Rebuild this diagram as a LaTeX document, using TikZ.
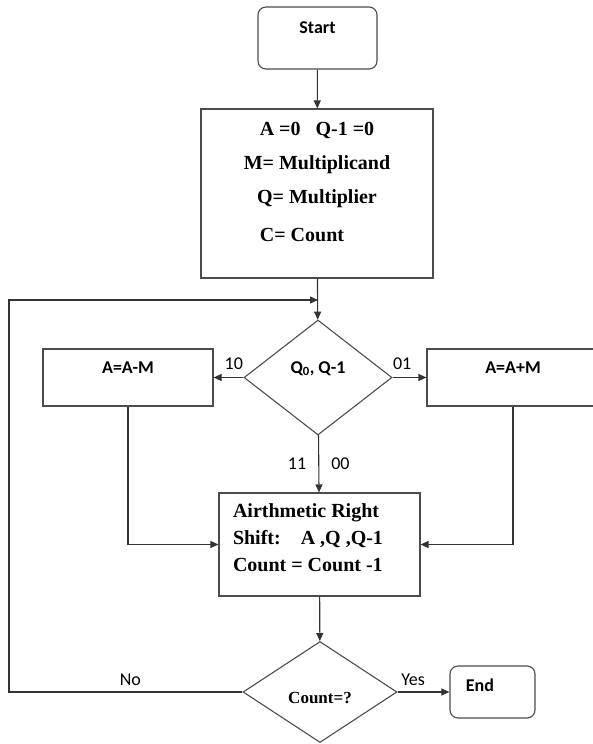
\documentclass[tikz,border=0pt]{standalone}
\usepackage{fontspec}
\setmainfont{Liberation Serif}
\newfontfamily\calibri{Carlito}
\usetikzlibrary{shapes.geometric,arrows.meta}
\colorlet{linegray}{black!70}
\tikzset{
terminal/.style={draw=linegray,rounded corners=8pt,inner ysep=0pt,font=\calibri\bfseries\fontsize{18}{22}\selectfont},
process/.style={draw=linegray,rectangle,inner sep=0pt,font=\bfseries\fontsize{20}{34}\selectfont},
opbox/.style={draw=linegray,rectangle,inner ysep=0pt,text height=24.8pt,text depth=32.2pt,font=\calibri\bfseries\fontsize{18}{22}\selectfont},
decision/.style={draw=linegray,diamond,inner sep=0pt},
arr/.style={draw=black!80,-{Triangle[length=8pt,width=7pt]}},
lbl/.style={inner sep=0pt,font=\calibri\fontsize{18}{22}\selectfont}
}
\begin{document}
\begin{tikzpicture}[x=1pt,y=-1pt,line width=1.1pt]
\useasboundingbox (0,0) rectangle (593,744);
\node[terminal,minimum width=119pt,text height=26.8pt,text depth=35.2pt] (start) at (317.5,38) {Start};
\node[process] (init) at (317,193.5) {\parbox[c][169pt][t]{232pt}{\centering\rule{0pt}{26.5pt}A =0\hspace{15pt}Q-1 =0\\
M= Multiplicand\\
Q= Multiplier\\[4pt]
\hspace*{-30pt}C= Count}};
\node[decision,minimum width=148pt,minimum height=115pt,font=\calibri\bfseries\fontsize{18}{22}\selectfont] (qtest) at (318,377.5) {\raisebox{4.2pt}[0pt][0pt]{Q\textsubscript{0}, Q-1}};
\node[opbox,minimum width=170pt] (sub) at (128,377.5) {A=A-M};
\node[opbox,minimum width=172pt] (add) at (513,377.5) {A=A+M};
\node[process,font=\bfseries\fontsize{20}{27}\selectfont] (shift) at (319.5,544.5) {\parbox[c][103pt][t]{201pt}{\raggedright\leftskip=14pt\rule{0pt}{24.6pt}Airthmetic Right\\
Shift:\hspace{20pt}A ,Q ,Q-1\\
Count = Count -1}};
\node[decision,minimum width=154pt,minimum height=101pt,font=\bfseries\fontsize{17}{20}\selectfont] (count) at (320,692) {\raisebox{-11.6pt}[0pt][0pt]{Count=?}};
\node[terminal,minimum width=85pt,text height=25.8pt,text depth=26.2pt] (finish) at (492.5,692) {End\hspace*{25pt}};
\coordinate (merge) at (318,300);
\coordinate (loopcorner) at (9,692);
\draw[arr] (start) -- (init);
\draw[arr] (init) -- (qtest);
\draw[arr] (count.west) -- node[lbl,pos=0.48,above=6pt]{No} (loopcorner) |- (merge);
\draw[arr] (qtest.west) -- node[lbl,pos=0,anchor=south east,yshift=7pt]{10} (sub.east);
\draw[arr] (qtest.east) -- node[lbl,pos=0,anchor=south west,yshift=7pt]{01} (add.west);
\draw[arr] (qtest) -- node[lbl,left=12pt]{11} node[lbl,right=12pt]{00} (shift);
\draw[arr] (sub.south) |- (shift.west);
\draw[arr] (add.south) |- (shift.east);
\draw[arr] (shift) -- (count);
\draw[arr] (count.east) -- node[lbl,pos=0.3,above=6pt]{Yes} (finish.west);
\end{tikzpicture}
\end{document}
